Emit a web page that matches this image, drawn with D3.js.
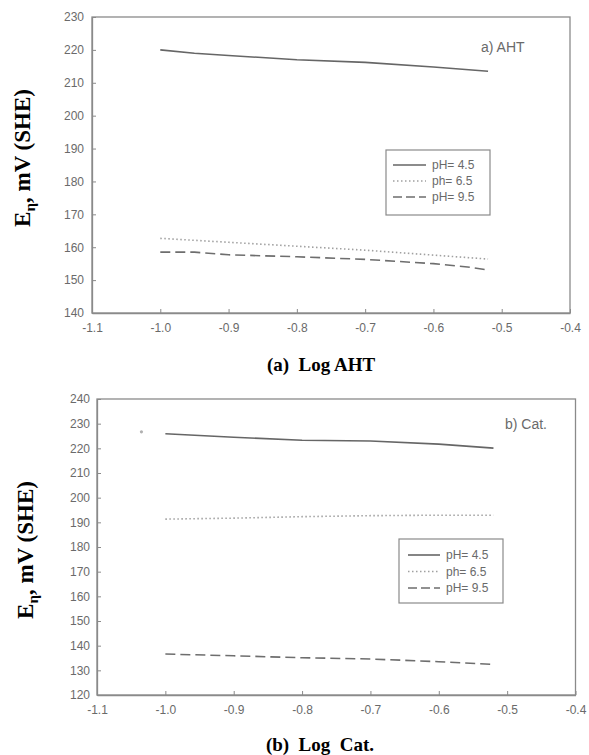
<!DOCTYPE html>
<html>
<head>
<meta charset="utf-8">
<script src="https://cdn.jsdelivr.net/npm/d3@7"></script>
<style>
  html, body { margin: 0; padding: 0; background: #fff; }
  svg { display: block; }
</style>
</head>
<body>
<svg id="chart" width="589" height="755"></svg>
<script>
// ---------- data ----------
const xTicks = [-1.1, -1.0, -0.9, -0.8, -0.7, -0.6, -0.5, -0.4];
const xTickLabels = ["-1.1", "-1.0", "-0.9", "-0.8", "-0.7", "-0.6", "-0.5", "-0.4"];

const seriesNames = ["pH= 4.5", "ph= 6.5", "pH= 9.5"];

// Panel (a) AHT
const ahtX45 = [-1.0, -0.95, -0.9, -0.8, -0.7, -0.6, -0.52];
const ahtY45 = [220.0, 219.0, 218.3, 217.0, 216.2, 214.8, 213.5];
const ahtX65 = [-1.0, -0.9, -0.8, -0.7, -0.6, -0.52];
const ahtY65 = [162.7, 161.5, 160.3, 159.1, 157.6, 156.4];
const ahtX95 = [-1.0, -0.95, -0.9, -0.8, -0.7, -0.6, -0.55, -0.52];
const ahtY95 = [158.5, 158.5, 157.7, 157.1, 156.3, 155.0, 154.0, 153.1];
const ahtYTicks = [140, 150, 160, 170, 180, 190, 200, 210, 220, 230];

// Panel (b) Cat.
const catX45 = [-1.0, -0.9, -0.8, -0.7, -0.6, -0.52];
const catY45 = [225.9, 224.5, 223.3, 223.0, 221.7, 220.1];
const catX65 = [-1.0, -0.9, -0.8, -0.7, -0.6, -0.52];
const catY65 = [191.3, 191.7, 192.3, 192.7, 192.9, 192.9];
const catX95 = [-1.0, -0.9, -0.8, -0.7, -0.6, -0.52];
const catY95 = [136.6, 135.9, 135.1, 134.6, 133.5, 132.4];
const catStrayX = [-1.035];
const catStrayY = [226.7];
const catYTicks = [120, 130, 140, 150, 160, 170, 180, 190, 200, 210, 220, 230, 240];

// ---------- styles ----------
const styles = [
  { stroke: "#666666", width: 1.6, dash: null },
  { stroke: "#a0a0a0", width: 1.6, dash: "1.5,2.5" },
  { stroke: "#6e6e6e", width: 1.6, dash: "10,5" }
];

const svg = d3.select("#chart");
const zip = (xs, ys) => xs.map((x, i) => [x, ys[i]]);

function panel(opt) {
  const x = d3.scaleLinear().domain([-1.1, -0.4]).range([opt.left, opt.right]);
  const y = d3.scaleLinear().domain(opt.yDomain).range([opt.bottom, opt.top]);
  const g = svg.append("g");

  // frame
  g.append("rect")
    .attr("x", opt.left).attr("y", opt.top)
    .attr("width", opt.right - opt.left).attr("height", opt.bottom - opt.top)
    .attr("fill", "none").attr("stroke", "#8a8a8a").attr("stroke-width", 1.3);

  // axes (ticks inward)
  const xa = g.append("g").attr("transform", `translate(0,${opt.bottom})`)
    .call(d3.axisBottom(x).tickValues(xTicks).tickSizeInner(-4).tickSizeOuter(0)
      .tickPadding(10).tickFormat((d, i) => xTickLabels[i]));
  const ya = g.append("g").attr("transform", `translate(${opt.left},0)`)
    .call(d3.axisLeft(y).tickValues(opt.yTicks).tickSizeInner(-4).tickSizeOuter(0)
      .tickPadding(opt.yPad).tickFormat(d3.format("d")));
  [xa, ya].forEach(a => {
    a.select(".domain").attr("stroke", "#8a8a8a").attr("stroke-width", 1.3);
    a.selectAll(".tick line").attr("stroke", "#8a8a8a");
    a.selectAll(".tick text").attr("fill", "#6a6a6a")
      .attr("font-family", "Arial, 'Liberation Sans', sans-serif").attr("font-size", 12);
  });

  // lines
  const line = d3.line().x(d => x(d[0])).y(d => y(d[1]));
  opt.series.forEach((s, i) => {
    const st = styles[i];
    g.append("path").datum(s).attr("d", line)
      .attr("fill", "none").attr("stroke", st.stroke)
      .attr("stroke-width", st.width).attr("stroke-dasharray", st.dash);
  });

  if (opt.stray) {
    g.selectAll("circle.stray").data(opt.stray).enter().append("circle")
      .attr("cx", d => x(d[0])).attr("cy", d => y(d[1])).attr("r", 1.6)
      .attr("fill", "#b0b0b0");
  }

  // panel label
  g.append("text").attr("x", opt.labelX).attr("y", opt.labelY)
    .attr("font-family", "Arial, 'Liberation Sans', sans-serif").attr("font-size", 14)
    .attr("fill", "#6a6a6a").text(opt.label);

  // legend
  const L = opt.legend;
  g.append("rect").attr("x", L.x).attr("y", L.y).attr("width", L.w).attr("height", L.h)
    .attr("fill", "#fff").attr("stroke", "#8a8a8a").attr("stroke-width", 1.2);
  seriesNames.forEach((name, i) => {
    const yy = L.y + L.first + i * L.step;
    const st = styles[i];
    g.append("line").attr("x1", L.x + L.lx1).attr("x2", L.x + L.lx2)
      .attr("y1", yy).attr("y2", yy)
      .attr("stroke", st.stroke).attr("stroke-width", st.width)
      .attr("stroke-dasharray", st.dash === "10,5" ? "9,4" : st.dash);
    g.append("text").attr("x", L.x + L.tx).attr("y", yy + 4)
      .attr("font-family", "Arial, 'Liberation Sans', sans-serif").attr("font-size", 12)
      .attr("fill", "#6a6a6a").text(name);
  });

  // y-axis title
  const t = g.append("text")
    .attr("transform", `translate(${opt.titleX},${opt.titleY}) rotate(-90)`)
    .attr("text-anchor", "middle")
    .attr("font-family", "'Liberation Serif', 'Times New Roman', serif")
    .attr("font-weight", "bold").attr("font-size", 23).attr("fill", "#000");
  t.append("tspan").text("E");
  t.append("tspan").attr("font-size", 15).attr("dy", 5).text("η");
  t.append("tspan").attr("dy", -5).text(", mV (SHE)");

  // caption
  svg.append("text").attr("x", opt.capX).attr("y", opt.capY)
    .attr("text-anchor", "middle")
    .attr("font-family", "'Liberation Serif', 'Times New Roman', serif")
    .attr("font-weight", "bold").attr("font-size", 19).attr("fill", "#000")
    .attr("xml:space", "preserve").style("white-space", "pre")
    .text(opt.caption);
}

panel({
  left: 92, right: 570, top: 17, bottom: 313,
  yDomain: [140, 230], yTicks: ahtYTicks, yPad: 8,
  series: [zip(ahtX45, ahtY45), zip(ahtX65, ahtY65), zip(ahtX95, ahtY95)],
  label: "a)  AHT", labelX: 481, labelY: 52,
  legend: { x: 386, y: 150, w: 104, h: 65, first: 15, step: 16, lx1: 7, lx2: 40, tx: 46 },
  titleX: 30, titleY: 158,
  caption: "(a)  Log AHT", capX: 321, capY: 371
});

panel({
  left: 97, right: 575.5, top: 399, bottom: 695,
  yDomain: [120, 240], yTicks: catYTicks, yPad: 7,
  series: [zip(catX45, catY45), zip(catX65, catY65), zip(catX95, catY95)],
  stray: zip(catStrayX, catStrayY),
  label: "b) Cat.", labelX: 505, labelY: 429,
  legend: { x: 399, y: 539, w: 104, h: 64, first: 16, step: 16.5, lx1: 9, lx2: 41, tx: 47 },
  titleX: 33, titleY: 550,
  caption: "(b)  Log  Cat.", capX: 320, capY: 751
});
</script>
</body>
</html>
